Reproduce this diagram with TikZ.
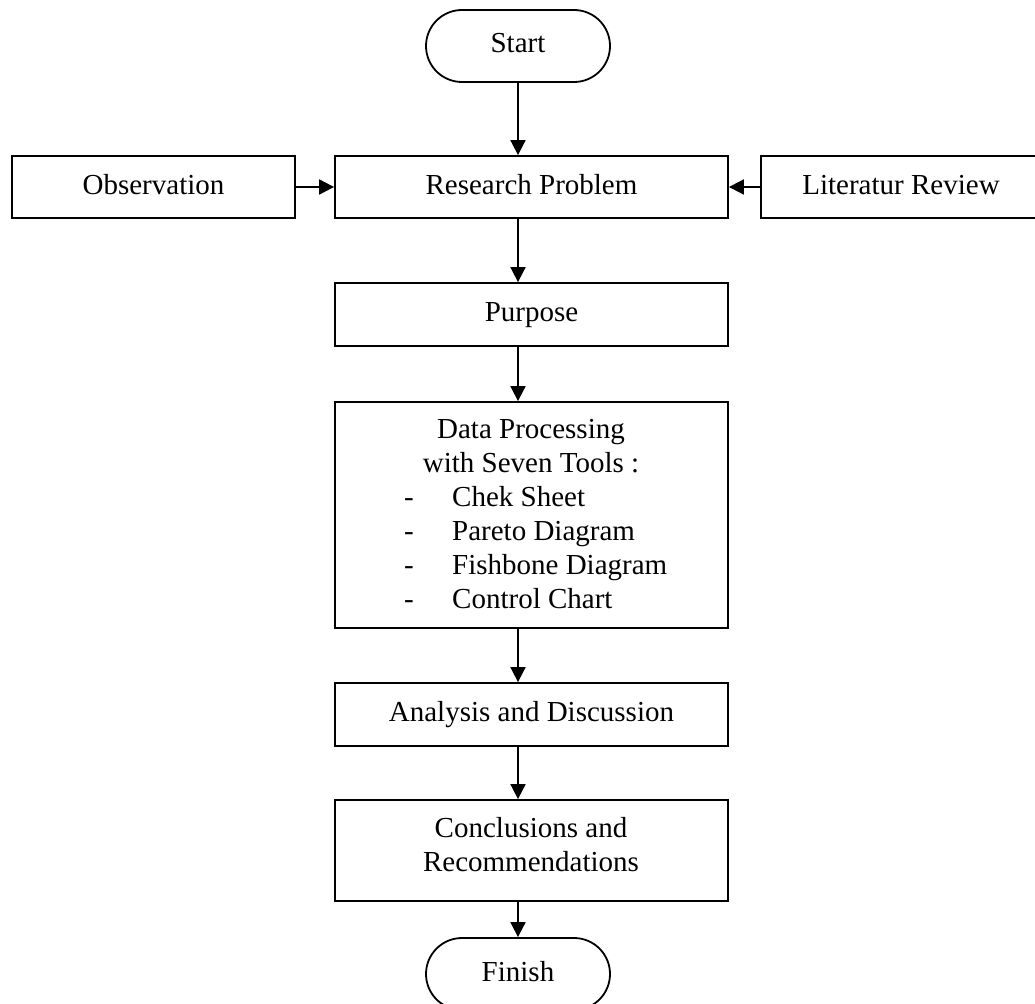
\documentclass[tikz,border=0pt]{standalone}
\usepackage{fontspec}
\setmainfont{Liberation Serif}
\usetikzlibrary{arrows.meta}
\begin{document}
\begin{tikzpicture}[x=1pt,y=-1pt,
  every node/.style={font=\fontsize{29}{34}\selectfont, inner sep=0pt},
  box/.style={draw, line width=1.8pt, rectangle, text height=20pt, text depth=6pt, align=center},
  term/.style={draw, line width=1.8pt, rounded corners=36pt, minimum width=184pt, minimum height=72pt, text height=20pt, text depth=6pt},
  arr/.style={line width=1.8pt, -{Triangle[length=15pt,width=15pt]}}]
\useasboundingbox (0,0) rectangle (1035,1003);
\clip (0,0) rectangle (1035,1003);
\fill[white] (0,0) rectangle (1035,1003);

\node[term] (start) at (518,46) {Start};
\node[box, minimum width=283pt, minimum height=62pt] (obs) at (153.5,187) {Observation};
\node[box, minimum width=393pt, minimum height=62pt] (rp) at (531.5,187) {Research Problem};
\node[box, minimum width=280pt, minimum height=62pt] (lr) at (901,187) {Literatur Review};
\node[box, minimum width=393pt, minimum height=63pt] (purpose) at (531.5,314.5) {Purpose};
\node[draw, line width=1.8pt, minimum width=393pt, minimum height=226pt] (data) at (531.5,515) {};
\node[anchor=base, align=center] (datahead) at (531,472) {Data Processing\\with Seven Tools :};
\node[anchor=base west, align=left, font=\fontsize{29}{33.7}\selectfont] (datalist) at (404,608) {\makebox[48pt][l]{-}Chek Sheet\\\makebox[48pt][l]{-}Pareto Diagram\\\makebox[48pt][l]{-}Fishbone Diagram\\\makebox[48pt][l]{-}Control Chart};
\node[box, minimum width=393pt, minimum height=63pt] (analysis) at (531.5,714.5) {Analysis and Discussion};
\node[draw, line width=1.8pt, minimum width=393pt, minimum height=101pt] (concl) at (531.5,850.5) {};
\node[anchor=base, align=center] (concltext) at (531,871) {Conclusions and\\Recommendations};
\node[term] (finish) at (518,974) {Finish};

\draw[arr] (start.south -| start) -- (rp.north -| start);
\draw[arr] (obs.east) -- (rp.west);
\draw[arr] (lr.west) -- (rp.east);
\draw[arr] (rp.south -| start) -- (purpose.north -| start);
\draw[arr] (purpose.south -| start) -- (data.north -| start);
\draw[arr] (data.south -| start) -- (analysis.north -| start);
\draw[arr] (analysis.south -| start) -- (concl.north -| start);
\draw[arr] (concl.south -| start) -- (finish.north -| start);
\end{tikzpicture}
\end{document}
